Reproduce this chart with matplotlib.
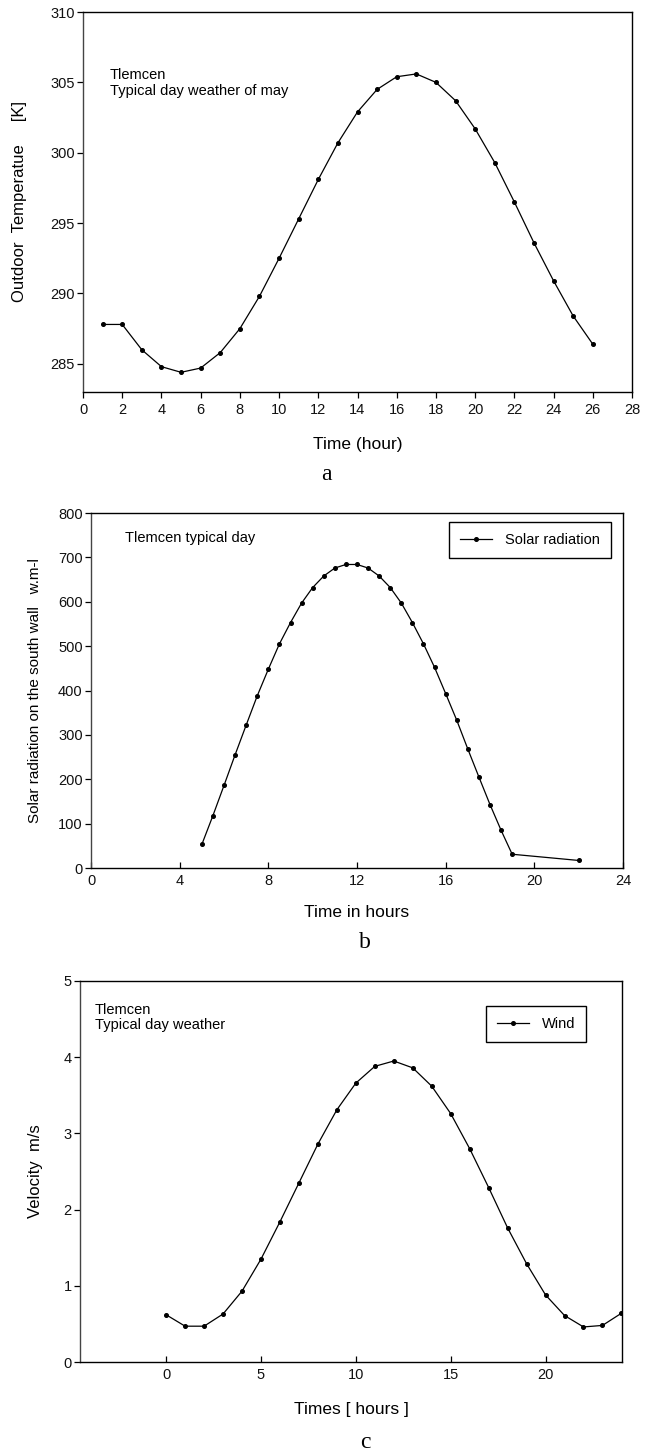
import matplotlib
matplotlib.use("Agg")
import matplotlib.pyplot as plt

NARROW = ['Liberation Sans Narrow', 'Liberation Sans', 'DejaVu Sans']
WIDE = ['Liberation Sans', 'DejaVu Sans']
SERIF = ['Liberation Serif', 'DejaVu Serif']

# panel a: outdoor temperature
temp_hours = list(range(1, 27))
temp_k = [287.8, 287.8, 286.0, 284.8, 284.4, 284.7, 285.8, 287.5, 289.8, 292.5,
          295.3, 298.1, 300.7, 302.9, 304.5, 305.4, 305.6, 305.0, 303.7, 301.7,
          299.3, 296.5, 293.6, 290.9, 288.4, 286.4]

# panel b: solar radiation on the south wall
solar_hours = [5, 5.5, 6, 6.5, 7, 7.5, 8, 8.5, 9, 9.5, 10, 10.5, 11, 11.5, 12,
               12.5, 13, 13.5, 14, 14.5, 15, 15.5, 16, 16.5, 17, 17.5, 18, 18.5,
               19, 22]
solar_rad = [53, 118, 186, 255, 322, 388, 448, 505, 553, 597, 632, 658, 676, 684,
             684, 676, 658, 632, 597, 553, 505, 452, 393, 333, 268, 205, 143, 85,
             31, 17]

# panel c: wind velocity
wind_hours = list(range(0, 25))
wind_speed = [0.62, 0.47, 0.47, 0.63, 0.93, 1.35, 1.84, 2.35, 2.86, 3.31, 3.66,
              3.88, 3.95, 3.86, 3.62, 3.26, 2.80, 2.29, 1.76, 1.29, 0.88, 0.61,
              0.46, 0.48, 0.64]

W, H = 659, 1454
fig = plt.figure(figsize=(W / 100, H / 100), dpi=100)


def box(left, top, right, bottom):
    return [left / W, 1 - bottom / H, (right - left) / W, (bottom - top) / H]


def style_axes(ax, xdir):
    for s in ax.spines.values():
        s.set_linewidth(1.0)
        s.set_color('black')
    ax.spines['left'].set_color('#444444')
    ax.tick_params(axis='y', direction='out', length=4, width=0.9, pad=2)
    ax.tick_params(axis='x', direction=xdir, length=4, width=0.9, pad=4)
    for lab in ax.get_xticklabels() + ax.get_yticklabels():
        lab.set_family(NARROW)
        lab.set_fontsize(10.5)
        lab.set_color('#111111')


line_kw = dict(color='black', lw=0.9, marker='o', markersize=2.6)

# ---- a ----
ax1 = fig.add_axes(box(83, 12, 632, 392))
ax1.plot(temp_hours, temp_k, **line_kw)
ax1.set_xlim(0, 28)
ax1.set_ylim(283, 310)
ax1.set_xticks(range(0, 29, 2))
ax1.set_yticks(range(285, 311, 5))
style_axes(ax1, 'out')
ax1.text(0.049, 0.813, 'Tlemcen\nTypical day weather of may', transform=ax1.transAxes,
         family=NARROW, fontsize=10.5, ha='left', va='center', linespacing=1.15)
ax1.set_xlabel('Time (hour)', family=NARROW, fontsize=12.5)
ax1.xaxis.set_label_coords(0.5, -0.139)
ax1.xaxis.label.set_va('center')
ax1.set_ylabel('Outdoor  Temperatue     [K]', family=WIDE, fontsize=12)
ax1.yaxis.set_label_coords(-0.115, 0.5)
ax1.yaxis.label.set_va('center')
fig.text(326 / W, 1 - 475 / H, 'a', family=SERIF, fontsize=17, ha='center', va='center')

# ---- b ----
ax2 = fig.add_axes(box(91, 513, 623, 868))
ax2.plot(solar_hours, solar_rad, label='Solar radiation', **line_kw)
ax2.set_xlim(0, 24)
ax2.set_ylim(0, 800)
ax2.set_xticks(range(0, 25, 4))
ax2.set_yticks(range(0, 801, 100))
style_axes(ax2, 'in')
ax2.text(0.063, 0.93, 'Tlemcen typical day', transform=ax2.transAxes,
         family=NARROW, fontsize=10.5, ha='left', va='center')
leg = ax2.legend(loc='upper right', bbox_to_anchor=(0.977, 0.975), borderaxespad=0,
                 prop={'family': NARROW, 'size': 10.5}, fancybox=False,
                 edgecolor='black', framealpha=1, handlelength=2.2,
                 handletextpad=0.9, borderpad=0.75)
leg.get_frame().set_linewidth(1.0)
ax2.set_xlabel('Time in hours', family=NARROW, fontsize=12.5)
ax2.xaxis.set_label_coords(0.5, -0.126)
ax2.xaxis.label.set_va('center')
ax2.set_ylabel('Solar radiation on the south wall   w.m-l', family=WIDE, fontsize=11)
ax2.yaxis.set_label_coords(-0.105, 0.5)
ax2.yaxis.label.set_va('center')
fig.text(365 / W, 1 - 943 / H, 'b', family=SERIF, fontsize=17, ha='center', va='center')

# ---- c ----
ax3 = fig.add_axes(box(80, 981, 622, 1362))
ax3.plot(wind_hours, wind_speed, label='Wind', **line_kw)
ax3.set_xlim(-4.54, 24.03)
ax3.set_ylim(0, 5)
ax3.set_xticks(range(0, 21, 5))
ax3.set_yticks(range(0, 6))
style_axes(ax3, 'in')
ax3.text(0.027, 0.904, 'Tlemcen\nTypical day weather', transform=ax3.transAxes,
         family=NARROW, fontsize=10.5, ha='left', va='center', linespacing=1.1)
leg = ax3.legend(loc='upper right', bbox_to_anchor=(0.934, 0.934), borderaxespad=0,
                 prop={'family': NARROW, 'size': 10.5}, fancybox=False,
                 edgecolor='black', framealpha=1, handlelength=2.2,
                 handletextpad=0.9, borderpad=0.75)
leg.get_frame().set_linewidth(1.0)
ax3.set_xlabel('Times [ hours ]', family=NARROW, fontsize=12.5)
ax3.xaxis.set_label_coords(0.5, -0.125)
ax3.xaxis.label.set_va('center')
ax3.set_ylabel('Velocity  m/s', family=WIDE, fontsize=12)
ax3.yaxis.set_label_coords(-0.083, 0.5)
ax3.yaxis.label.set_va('center')
fig.text(365 / W, 1 - 1442 / H, 'c', family=SERIF, fontsize=17, ha='center', va='center')

fig.savefig('out.png', dpi=100)
